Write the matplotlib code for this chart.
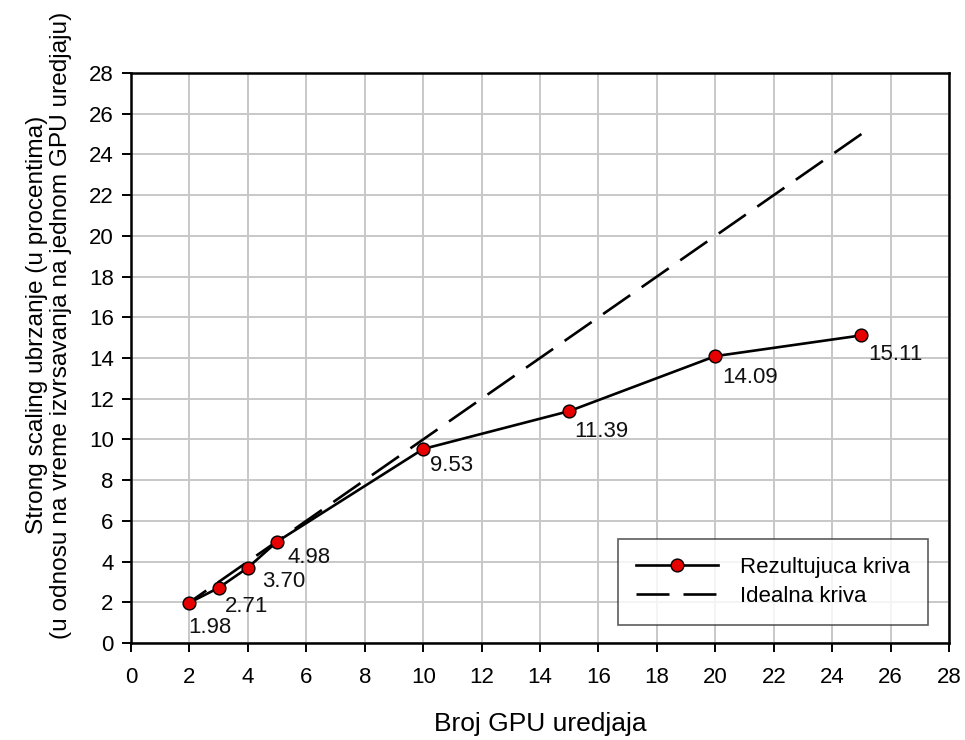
import matplotlib
matplotlib.use("Agg")
import matplotlib.pyplot as plt

plt.rcParams['font.family'] = ['Liberation Sans', 'DejaVu Sans']

gpus = [2, 3, 4, 5, 10, 15, 20, 25]
speedup = [1.98, 2.71, 3.70, 4.98, 9.53, 11.39, 14.09, 15.11]
ideal_x = [25, 2]
ideal_y = [25, 2]
labels = ["1.98", "2.71", "3.70", "4.98", "9.53", "11.39", "14.09", "15.11"]
ticks = list(range(0, 29, 2))

# label offsets in pixels (dx right, dy down) from point to label bbox top-left
offs = [(-1, 14), (6, 8), (14, 3), (10, 5), (7, 6), (5, 10), (7, 11), (7, 9)]

fig = plt.figure(figsize=(9.65, 7.4), dpi=100)
ax = fig.add_axes([0.1358, 0.1311, 0.8477, 0.7703])

ax.set_xlim(0, 28)
ax.set_ylim(0, 28)
ax.set_xticks(ticks)
ax.set_yticks(ticks)
ax.grid(True, color='#c8c8c8', linewidth=1.4)
ax.set_axisbelow(True)

ax.plot(ideal_x, ideal_y, color='black', linewidth=1.9, dashes=(12.5, 5.3),
        label='Idealna kriva', zorder=2)
ax.plot(gpus, speedup, color='black', linewidth=1.9, marker='o',
        markersize=9.2, markerfacecolor='#e60000', markeredgecolor='black',
        markeredgewidth=1.0, label='Rezultujuca kriva', zorder=3)

for x, y, t, (dx, dy) in zip(gpus, speedup, labels, offs):
    ax.annotate(t, (x, y), xytext=(dx * 0.72, -dy * 0.72), textcoords='offset points',
                ha='left', va='top', fontsize=16, color='#111111')

for s in ax.spines.values():
    s.set_linewidth(1.8)
    s.set_color('black')
ax.tick_params(direction='out', length=6.5, width=1.4, labelsize=16)
ax.tick_params(axis='y', pad=6)
ax.tick_params(axis='x', pad=11)

ax.set_xlabel('Broj GPU uredjaja', fontsize=19, labelpad=17)
ax.set_ylabel('Strong scaling ubrzanje (u procentima)\n(u odnosu na vreme izvrsavanja na jednom GPU uredjaju)',
              fontsize=17.6, linespacing=1.1)
ax.yaxis.set_label_coords(-0.072, 0.558)

h, l = ax.get_legend_handles_labels()
leg = ax.legend(h[::-1], l[::-1], loc='lower right', bbox_to_anchor=(0.974, 0.032),
                borderaxespad=0,
                fontsize=16, frameon=True, fancybox=False, edgecolor='#333333',
                handlelength=3.7, handletextpad=1.0, borderpad=0.8, labelspacing=0.35)
leg.get_frame().set_linewidth(1.2)

fig.savefig('out.png', dpi=100)
